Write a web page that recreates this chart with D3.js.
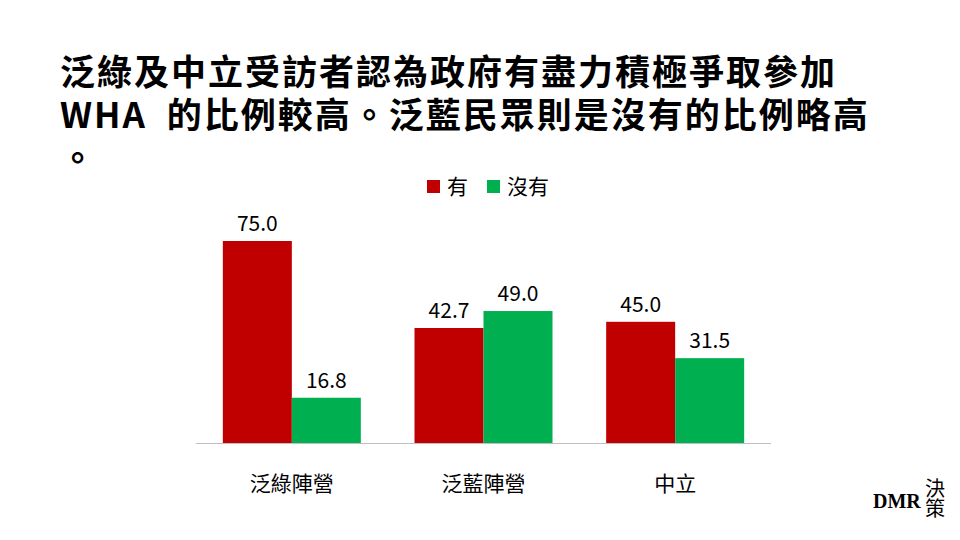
<!DOCTYPE html>
<html><head><meta charset="utf-8">
<script src="https://cdn.jsdelivr.net/npm/d3@7"></script>
<style>body{margin:0;background:#fff}svg{display:block}</style>
</head><body><svg id="c" width="960" height="540"></svg>
<script>
const CATEGORIES = ["泛綠陣營", "泛藍陣營", "中立"];
const SERIES = ["有", "沒有"];
const YES = [75.0, 42.7, 45.0];
const NO = [16.8, 49.0, 31.5];
const COLORS = ["#c00000", "#00b050"];
const TITLE = ["泛綠及中立受訪者認為政府有盡力積極爭取參加", "WHA\u00a0\u00a0的比例較高。泛藍民眾則是沒有的比例略高", "。"];

const svg = d3.select("#c");
const font = "'Noto Sans CJK TC', 'Noto Sans', sans-serif";

svg.selectAll("text.title").data(TITLE).enter().append("text")
  .attr("x", 60).attr("y", (d, i) => 85 + i * 43)
  .attr("font-family", font).attr("font-weight", "bold").attr("font-size", 35)
  .attr("letter-spacing", 2)
  .attr("fill", "#000").text(d => d);

const x0 = d3.scaleBand().domain(CATEGORIES).range([196, 771]).paddingInner(0.28).paddingOuter(0.14);
const x1 = d3.scaleBand().domain(SERIES).range([0, x0.bandwidth()]);
const y = d3.scaleLinear().domain([0, 75]).range([443, 241]);

const rows = CATEGORIES.map((c, i) => ({c, vals: [YES[i], NO[i]]}));
const g = svg.selectAll("g.grp").data(rows).enter().append("g")
  .attr("transform", d => `translate(${x0(d.c)},0)`);
g.selectAll("rect").data(d => d.vals.map((v, j) => ({s: SERIES[j], v, j}))).enter().append("rect")
  .attr("x", d => x1(d.s)).attr("width", x1.bandwidth())
  .attr("y", d => y(d.v)).attr("height", d => y(0) - y(d.v))
  .attr("fill", d => COLORS[d.j]);
g.selectAll("text").data(d => d.vals.map((v, j) => ({s: SERIES[j], v}))).enter().append("text")
  .attr("x", d => x1(d.s) + x1.bandwidth() / 2).attr("y", d => y(d.v) - 10)
  .attr("text-anchor", "middle").attr("font-family", font).attr("font-size", 21)
  .text(d => d.v.toFixed(1));

const ax = svg.append("g").attr("transform", `translate(0,${y(0)})`)
  .call(d3.axisBottom(x0).tickSize(0).tickPadding(33));
ax.select(".domain").attr("stroke", "#bfbfbf").attr("d", "M196,0.5H771");
ax.selectAll("text").attr("font-family", font).attr("font-size", 21).attr("fill", "#000");

const lg = svg.selectAll("g.lg").data(SERIES).enter().append("g")
  .attr("transform", (d, i) => `translate(${[427, 487][i]},180)`);
lg.append("rect").attr("width", 13).attr("height", 13).attr("fill", (d, i) => COLORS[i]);
lg.append("text").attr("x", 20).attr("y", 14).attr("font-family", font).attr("font-size", 21).text(d => d);

svg.append("text").attr("x", 873).attr("y", 508).attr("font-family", "Liberation Serif")
  .attr("font-weight", "bold").attr("font-size", 20).text("DMR");
svg.append("text").attr("x", 935).attr("y", 478).attr("font-family", font)
  .attr("font-size", 20).attr("writing-mode", "tb").text("決策");
</script></body></html>
